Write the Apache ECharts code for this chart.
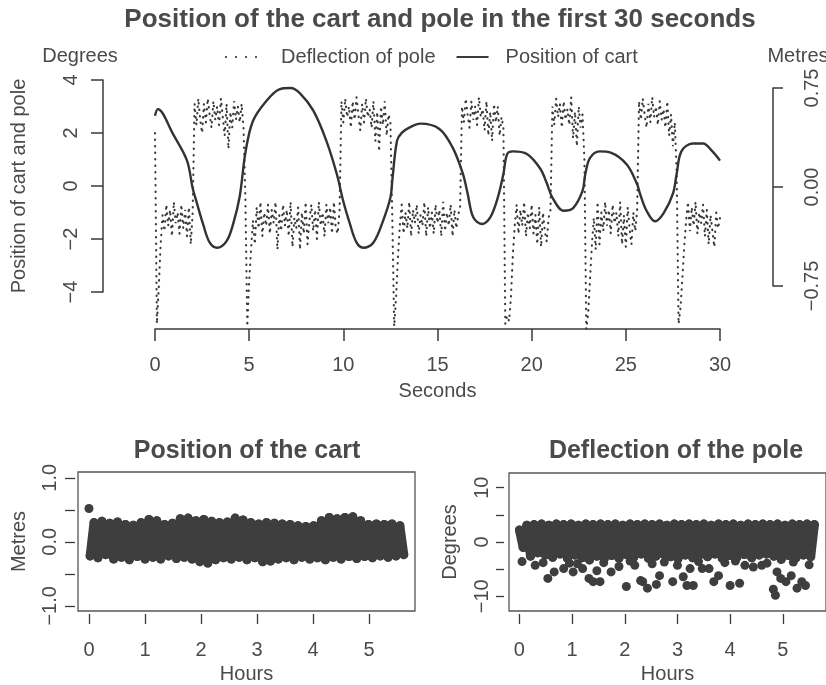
<!DOCTYPE html>
<html>
<head>
<meta charset="utf-8">
<script src="https://cdn.jsdelivr.net/npm/echarts@6/dist/echarts.min.js"></script>
<style>
  html, body { margin: 0; padding: 0; background: #ffffff; }
  #chart { width: 826px; height: 685px; }
</style>
</head>
<body>
<div id="chart"></div>
<script>
// ---- First 30 seconds: pole deflection (degrees), sampled every 0.1 s ----
const poleStepSeconds = 0.1;
const poleDegrees = [
  2.0, -5.2, -3.8, -2.2, -1.1, -1.7, -0.7, -1.5, -0.9, -1.9,
  -0.6, -1.4, -1.0, -1.8, -0.7, -1.6, -0.9, -1.9, -0.8, -2.2,
  -1.0, 3.1, 2.3, 3.3, 2.5, 2.0, 3.1, 2.4, 3.3, 2.7,
  2.2, 3.2, 2.5, 3.0, 2.3, 3.3, 2.6, 1.9, 3.1, 1.4,
  2.8, 2.2, 3.2, 2.5, 3.0, 2.4, 3.1, 2.2, -0.5, -5.3,
  -3.6, -2.4, -1.3, -2.2, -0.8, -1.6, -0.6, -1.9, -1.0, -1.5,
  -0.7, -1.8, -0.9, -1.4, -0.6, -2.4, -1.1, -1.7, -0.7, -1.5,
  -0.9, -1.9, -0.6, -2.3, -1.2, -1.6, -0.8, -2.4, -1.0, -1.8,
  -0.6, -2.2, -1.3, -0.7, -1.7, -0.9, -2.0, -0.6, -1.5, -1.0,
  -1.9, -0.7, -1.4, -0.8, -1.8, -0.6, -1.6, -1.8, -0.9, 3.2,
  2.4, 3.3, 2.6, 3.0, 2.2, 3.2, 2.5, 3.35, 2.7, 2.1,
  3.1, 2.4, 3.3, 2.6, 2.9, 2.2, 3.2, 1.7, 2.8, 1.3,
  3.0, 2.3, 3.2, 1.9, 2.7, 2.4, -1.2, -5.3, -4.2, -2.7,
  -1.5, -0.7, -1.8, -1.0, -1.6, -0.6, -1.9, -0.9, -1.4, -0.7,
  -1.8, -1.1, -1.5, -0.6, -1.9, -0.8, -1.6, -1.0, -1.8, -0.7,
  -1.4, -0.9, -1.9, -0.6, -1.7, -1.0, -1.5, -0.7, -1.9, -0.9,
  -1.6, -1.1, -0.8, 3.0, 2.4, 3.3, 2.7, 2.2, 3.2, 2.5,
  3.0, 2.3, 3.35, 2.6, 2.9, 2.1, 3.2, 1.9, 2.8, 1.7,
  3.1, 2.4, 3.0, 1.9, 2.6, 2.2, -5.2, -4.9, -5.1, -4.2,
  -2.6, -1.5, -0.7, -1.8, -0.9, -1.5, -0.6, -1.9, -1.0, -1.6,
  -0.7, -1.8, -1.1, -2.2, -0.8, -2.3, -1.0, -1.7, -2.1, -1.2,
  -0.9, 3.0, 2.3, 3.3, 2.6, 3.1, 2.2, 3.2, 2.5, 2.9,
  2.3, 3.35, 1.8, 2.8, 1.5, 3.0, 2.2, 2.7, 1.0, -5.4,
  -4.8, -3.5, -2.2, -1.2, -2.4, -0.6, -2.2, -1.0, -1.7, -0.6,
  -1.5, -0.9, -1.8, -0.7, -1.4, -1.0, -1.9, -0.6, -2.2, -1.1,
  -2.3, -0.8, -1.6, -2.2, -1.0, -1.7, -0.9, 3.2, 2.5, 3.3,
  2.7, 2.2, 3.1, 2.4, 3.35, 2.6, 3.0, 2.3, 3.2, 2.5,
  2.9, 2.2, 3.2, 1.9, 2.7, 1.5, 2.4, 0.5, -5.2, -4.6,
  -3.5, -2.3, -1.3, -0.6, -1.7, -0.8, -1.5, -0.6, -1.8, -1.0,
  -1.4, -0.7, -1.9, -0.9, -2.2, -1.1, -1.7, -2.3, -1.0, -1.6,
  -1.2
];

// ---- First 30 seconds: cart position (metres) ----
const cartSeconds = [
  0, 0.15, 0.96, 1.7, 2.0, 2.2, 2.55, 2.9, 3.3, 3.8,
  4.15, 4.5, 4.8, 5.2, 5.9, 6.6, 7.2, 7.7, 8.4, 9.1,
  9.65, 10.0, 10.35, 10.7, 11.05, 11.6, 12.1, 12.5, 12.6, 12.85,
  13.1, 13.5, 14.1, 15.1, 15.8, 16.35, 16.6, 16.9, 17.35, 17.8,
  18.2, 18.5, 18.7, 19.0, 19.75, 20.45, 20.8, 21.1, 21.7, 22.2,
  22.7, 22.85, 23.1, 23.6, 24.2, 25.05, 25.6, 25.75, 26.1, 26.55,
  27.0, 27.5, 27.7, 27.95, 28.55, 29.1, 29.6, 30
];
const cartMetres = [
  0.54, 0.59, 0.40, 0.20, -0.01, -0.11, -0.28, -0.42, -0.46, -0.41,
  -0.28, -0.07, 0.26, 0.50, 0.65, 0.74, 0.75, 0.71, 0.58, 0.35,
  0.10, -0.11, -0.28, -0.42, -0.46, -0.42, -0.26, -0.08, 0.05, 0.35,
  0.41, 0.45, 0.48, 0.44, 0.30, 0.10, -0.05, -0.23, -0.28, -0.23,
  -0.08, 0.10, 0.25, 0.27, 0.25, 0.14, 0.03, -0.08, -0.18, -0.16,
  -0.03, 0.10, 0.22, 0.27, 0.26, 0.17, 0.02, -0.05, -0.18, -0.26,
  -0.20, -0.05, 0.10, 0.27, 0.33, 0.33, 0.27, 0.20
];

// ---- Whole run (hours): cart position, sampled every 0.07 h ----
const runStepHours = 0.07;
const runCartMetres = [
  -0.22, 0.30, -0.25, 0.32, -0.20, 0.29, -0.27, 0.31, -0.24, 0.27,
  -0.28, 0.26, -0.23, 0.30, -0.27, 0.35, -0.24, 0.33, -0.27, 0.27,
  -0.22, 0.29, -0.26, 0.36, -0.24, 0.37, -0.27, 0.33, -0.31, 0.35,
  -0.33, 0.32, -0.28, 0.30, -0.25, 0.31, -0.27, 0.37, -0.24, 0.34,
  -0.28, 0.30, -0.25, 0.28, -0.31, 0.30, -0.30, 0.29, -0.27, 0.28,
  -0.25, 0.27, -0.28, 0.25, -0.24, 0.24, -0.27, 0.25, -0.25, 0.33,
  -0.28, 0.38, -0.24, 0.36, -0.27, 0.38, -0.23, 0.39, -0.26, 0.33,
  -0.23, 0.27, -0.25, 0.28, -0.22, 0.27, -0.24, 0.28, -0.22, 0.25,
  -0.2
];
// the cart's largest excursion, right after the start
const cartPeakHours = [0.0];
const cartPeakMetres = [0.52];

// ---- Whole run (hours): pole deflection, sampled every 0.07 h ----
const runPoleDegrees = [
  2.2, -1.0, 3.1, -2.6, 3.2, -2.0, 3.3, -2.4, 3.1, -2.8,
  3.3, -2.2, 3.2, -3.0, 3.3, -2.4, 3.1, -2.9, 3.3, -3.3,
  3.2, -2.6, 3.3, -3.1, 3.2, -2.5, 3.3, -3.0, 3.1, -2.3,
  3.3, -2.8, 3.2, -2.2, 3.3, -3.0, 3.2, -2.6, 3.3, -2.2,
  3.1, -2.7, 3.3, -3.1, 3.2, -2.4, 3.3, -2.9, 3.2, -2.3,
  3.3, -2.7, 3.1, -2.2, 3.3, -3.0, 3.2, -2.5, 3.3, -2.8,
  3.1, -2.3, 3.3, -2.9, 3.2, -2.4, 3.3, -2.2, 3.2, -2.6,
  3.3, -3.2, 3.1, -2.5, 3.3, -2.9, 3.2, -2.4, 3.3, -2.7,
  3.2
];

// Large swings of the pole over the run
const swingHours = [
  0.05, 0.3, 0.54, 0.66, 0.84, 1.02, 1.2, 1.32, 1.4, 1.47,
  1.53, 1.74, 1.89, 2.03, 2.19, 2.3, 2.34, 2.43, 2.52, 2.6,
  2.66, 2.91, 3.0, 3.11, 3.18, 3.24, 3.3, 3.47, 3.6, 3.69,
  3.78, 4.0, 4.18, 4.28, 4.44, 4.6, 4.82, 4.86, 4.89, 4.96,
  5.06, 5.16, 5.27, 5.36, 5.43,
  0.45, 0.95, 1.1, 1.6, 2.1, 2.75, 3.4, 3.9, 4.1, 4.7, 5.2, 5.5
];
const swingDegrees = [
  -3.6, -4.3, -6.7, -5.5, -4.9, -5.5, -4.9, -6.7, -7.3, -5.3,
  -7.3, -5.5, -4.5, -8.2, -4.3, -7.1, -7.3, -8.5, -4.0, -7.8,
  -6.2, -7.3, -4.3, -6.4, -8.0, -4.9, -8.0, -4.9, -4.9, -7.3,
  -6.2, -8.0, -7.6, -4.3, -4.6, -4.3, -8.7, -9.8, -5.5, -6.7,
  -7.3, -6.2, -8.5, -7.3, -8.0,
  -3.8, -3.9, -4.0, -3.8, -3.5, -3.7, -3.6, -3.8, -3.5, -3.9, -3.7, -4.2
];

// Tick positions
const hourTicks = [0, 1, 2, 3, 4, 5];
const runMetreTicks = [-1, -0.5, 0, 0.5, 1];
const runMetreLabels = [-1, 0, 1];
const runDegreeTicks = [-10, -5, 0, 5, 10];
const runDegreeLabels = [-10, 0, 10];

// ---- styling ----
const FONT = 'Liberation Sans, Arial, Helvetica, sans-serif';
const TEXT = '#4a4a4a';
const INK = '#3a3a3a';
const DOT = '#3e3e3e';

function minus(s) { return String(s).replace('-', '\u2212'); }

const labelStyle = { fontFamily: FONT, fontSize: 20, fontWeight: 'normal', color: TEXT };
const headStyle = { fontFamily: FONT, fontSize: 25, fontWeight: 'bold', color: TEXT };

const poleData = poleDegrees.map((v, i) => [+(i * poleStepSeconds).toFixed(2), v]);
const cartData = cartSeconds.map((t, i) => [t, cartMetres[i]]);
const runCartData = runCartMetres.map((v, i) => [+(0.02 + i * runStepHours).toFixed(3), v]);
const cartPeakData = cartPeakHours.map((h, i) => [h, cartPeakMetres[i]]);
const runPoleData = runPoleDegrees.map((v, i) => [+(i * runStepHours).toFixed(3), v]);
const swingData = swingHours.map((h, i) => [h, swingDegrees[i]]);

function hoursAxis(gridIndex, min) {
  return {
    type: 'value', gridIndex: gridIndex, min: min, max: 5.82,
    offset: 3,
    axisLine: { show: false, onZero: false },
    axisTick: { show: true, length: 10, lineStyle: { color: INK, width: 1.3 }, customValues: hourTicks },
    axisLabel: Object.assign({ margin: 26, customValues: hourTicks }, labelStyle),
    splitLine: { show: false },
    name: 'Hours', nameLocation: 'middle', nameGap: 50,
    nameTextStyle: labelStyle
  };
}

const bandLine = { color: DOT, width: 9, join: 'round', cap: 'round' };

const option = {
  animation: false,
  backgroundColor: '#ffffff',
  textStyle: { fontFamily: FONT },
  title: [
    { text: 'Position of the cart and pole in the first 30 seconds', left: 440, top: 7, textAlign: 'center', padding: 0,
      textStyle: Object.assign({}, headStyle, { fontSize: 26 }) },
    { text: 'Degrees', left: 80, top: 46, textAlign: 'center', padding: 0, textStyle: labelStyle },
    { text: 'Metres', left: 798, top: 46, textAlign: 'center', padding: 0, textStyle: labelStyle },
    { text: 'Position of the cart', left: 247, top: 439, textAlign: 'center', padding: 0, textStyle: headStyle },
    { text: 'Deflection of the pole', left: 676, top: 439, textAlign: 'center', padding: 0, textStyle: headStyle }
  ],
  legend: {
    left: 220, top: 42, itemWidth: 32, itemHeight: 3, itemGap: 21,
    textStyle: labelStyle,
    data: [
      { name: 'Deflection of pole', icon: 'path://M0 0h2v2h-2z M10 0h2v2h-2z M20 0h2v2h-2z M30 0h2v2h-2z',
        itemStyle: { color: '#555' }, textStyle: { padding: [0, 0, 0, 19] } },
      { name: 'Position of cart', icon: 'path://M0 0H32V2H0Z',
        itemStyle: { color: INK }, textStyle: { padding: [0, 0, 0, 12] } }
    ]
  },
  grid: [
    { left: 155, top: 80, width: 565, height: 212, show: false },
    { left: 155, top: 88, width: 565, height: 198, show: false },
    { left: 78, top: 472, width: 337, height: 141, show: true, borderColor: '#555', borderWidth: 1.3 },
    { left: 509, top: 473, width: 335, height: 140, show: true, borderColor: '#555', borderWidth: 1.3 }
  ],
  xAxis: [
    { type: 'value', gridIndex: 0, min: 0, max: 30, interval: 5, offset: 37,
      axisLine: { show: true, onZero: false, lineStyle: { color: INK, width: 1.5 } },
      axisTick: { show: true, length: 12, lineStyle: { color: INK, width: 1.5 } },
      axisLabel: Object.assign({ margin: 26 }, labelStyle),
      splitLine: { show: false },
      name: 'Seconds', nameLocation: 'middle', nameGap: 52, nameTextStyle: labelStyle },
    { type: 'value', gridIndex: 1, min: 0, max: 30, show: false },
    hoursAxis(2, -0.196),
    hoursAxis(3, -0.198)
  ],
  yAxis: [
    { type: 'value', gridIndex: 0, min: -4, max: 4, interval: 2, position: 'left', offset: 52,
      axisLine: { show: true, onZero: false, lineStyle: { color: INK, width: 1.5 } },
      axisTick: { show: true, length: 12, lineStyle: { color: INK, width: 1.5 } },
      axisLabel: Object.assign({ rotate: 90, margin: 22, formatter: v => minus(v) }, labelStyle),
      splitLine: { show: false },
      name: 'Position of cart and pole', nameLocation: 'middle', nameGap: 74, nameTextStyle: labelStyle },
    { type: 'value', gridIndex: 1, min: -0.75, max: 0.75, interval: 0.75, position: 'right', offset: 53,
      axisLine: { show: true, onZero: false, lineStyle: { color: INK, width: 1.5 } },
      axisTick: { show: true, length: 10, lineStyle: { color: INK, width: 1.5 } },
      axisLabel: Object.assign({ rotate: 90, margin: 29, formatter: v => minus(v.toFixed(2)) }, labelStyle),
      splitLine: { show: false } },
    { type: 'value', gridIndex: 2, min: -1.08, max: 1.09, offset: 3,
      axisLine: { show: false, onZero: false },
      axisTick: { show: true, length: 10, lineStyle: { color: INK, width: 1.3 }, customValues: runMetreTicks },
      axisLabel: Object.assign({ rotate: 90, margin: 15, customValues: runMetreLabels, formatter: v => minus(v.toFixed(1)) }, labelStyle),
      splitLine: { show: false },
      name: 'Metres', nameLocation: 'middle', nameGap: 46, nameTextStyle: labelStyle },
    { type: 'value', gridIndex: 3, min: -12.7, max: 12.7, offset: 5,
      axisLine: { show: false, onZero: false },
      axisTick: { show: true, length: 8, lineStyle: { color: INK, width: 1.3 }, customValues: runDegreeTicks },
      axisLabel: Object.assign({ rotate: 90, margin: 12, customValues: runDegreeLabels, formatter: v => minus(v) }, labelStyle),
      splitLine: { show: false },
      name: 'Degrees', nameLocation: 'middle', nameGap: 44, nameTextStyle: labelStyle }
  ],
  series: [
    { name: 'Deflection of pole', type: 'line', xAxisIndex: 0, yAxisIndex: 0, data: poleData,
      symbol: 'none', clip: false, color: '#555',
      lineStyle: { color: '#3a3a3a', width: 2.1, type: [0.5, 6], cap: 'round' } },
    { name: 'Position of cart', type: 'line', xAxisIndex: 1, yAxisIndex: 1, data: cartData,
      symbol: 'none', smooth: 0.35, clip: false, color: INK,
      lineStyle: { color: '#333', width: 2.4 } },
    { name: 'Cart over the run', type: 'line', xAxisIndex: 2, yAxisIndex: 2, data: runCartData,
      symbol: 'circle', symbolSize: 9, showSymbol: true, showAllSymbol: true, clip: false,
      itemStyle: { color: DOT, opacity: 1 }, lineStyle: bandLine },
    { name: 'Cart peak', type: 'scatter', xAxisIndex: 2, yAxisIndex: 2, data: cartPeakData,
      symbol: 'circle', symbolSize: 9, itemStyle: { color: DOT, opacity: 1 } },
    { name: 'Pole over the run', type: 'line', xAxisIndex: 3, yAxisIndex: 3, data: runPoleData,
      symbol: 'circle', symbolSize: 9, showSymbol: true, showAllSymbol: true, clip: false,
      itemStyle: { color: DOT, opacity: 1 }, lineStyle: bandLine },
    { name: 'Pole swings', type: 'scatter', xAxisIndex: 3, yAxisIndex: 3, data: swingData,
      symbol: 'circle', symbolSize: 9, itemStyle: { color: DOT, opacity: 1 } }
  ]
};

const chart = echarts.init(document.getElementById('chart'), null, { renderer: 'canvas' });
chart.setOption(option);
</script>
</body>
</html>
